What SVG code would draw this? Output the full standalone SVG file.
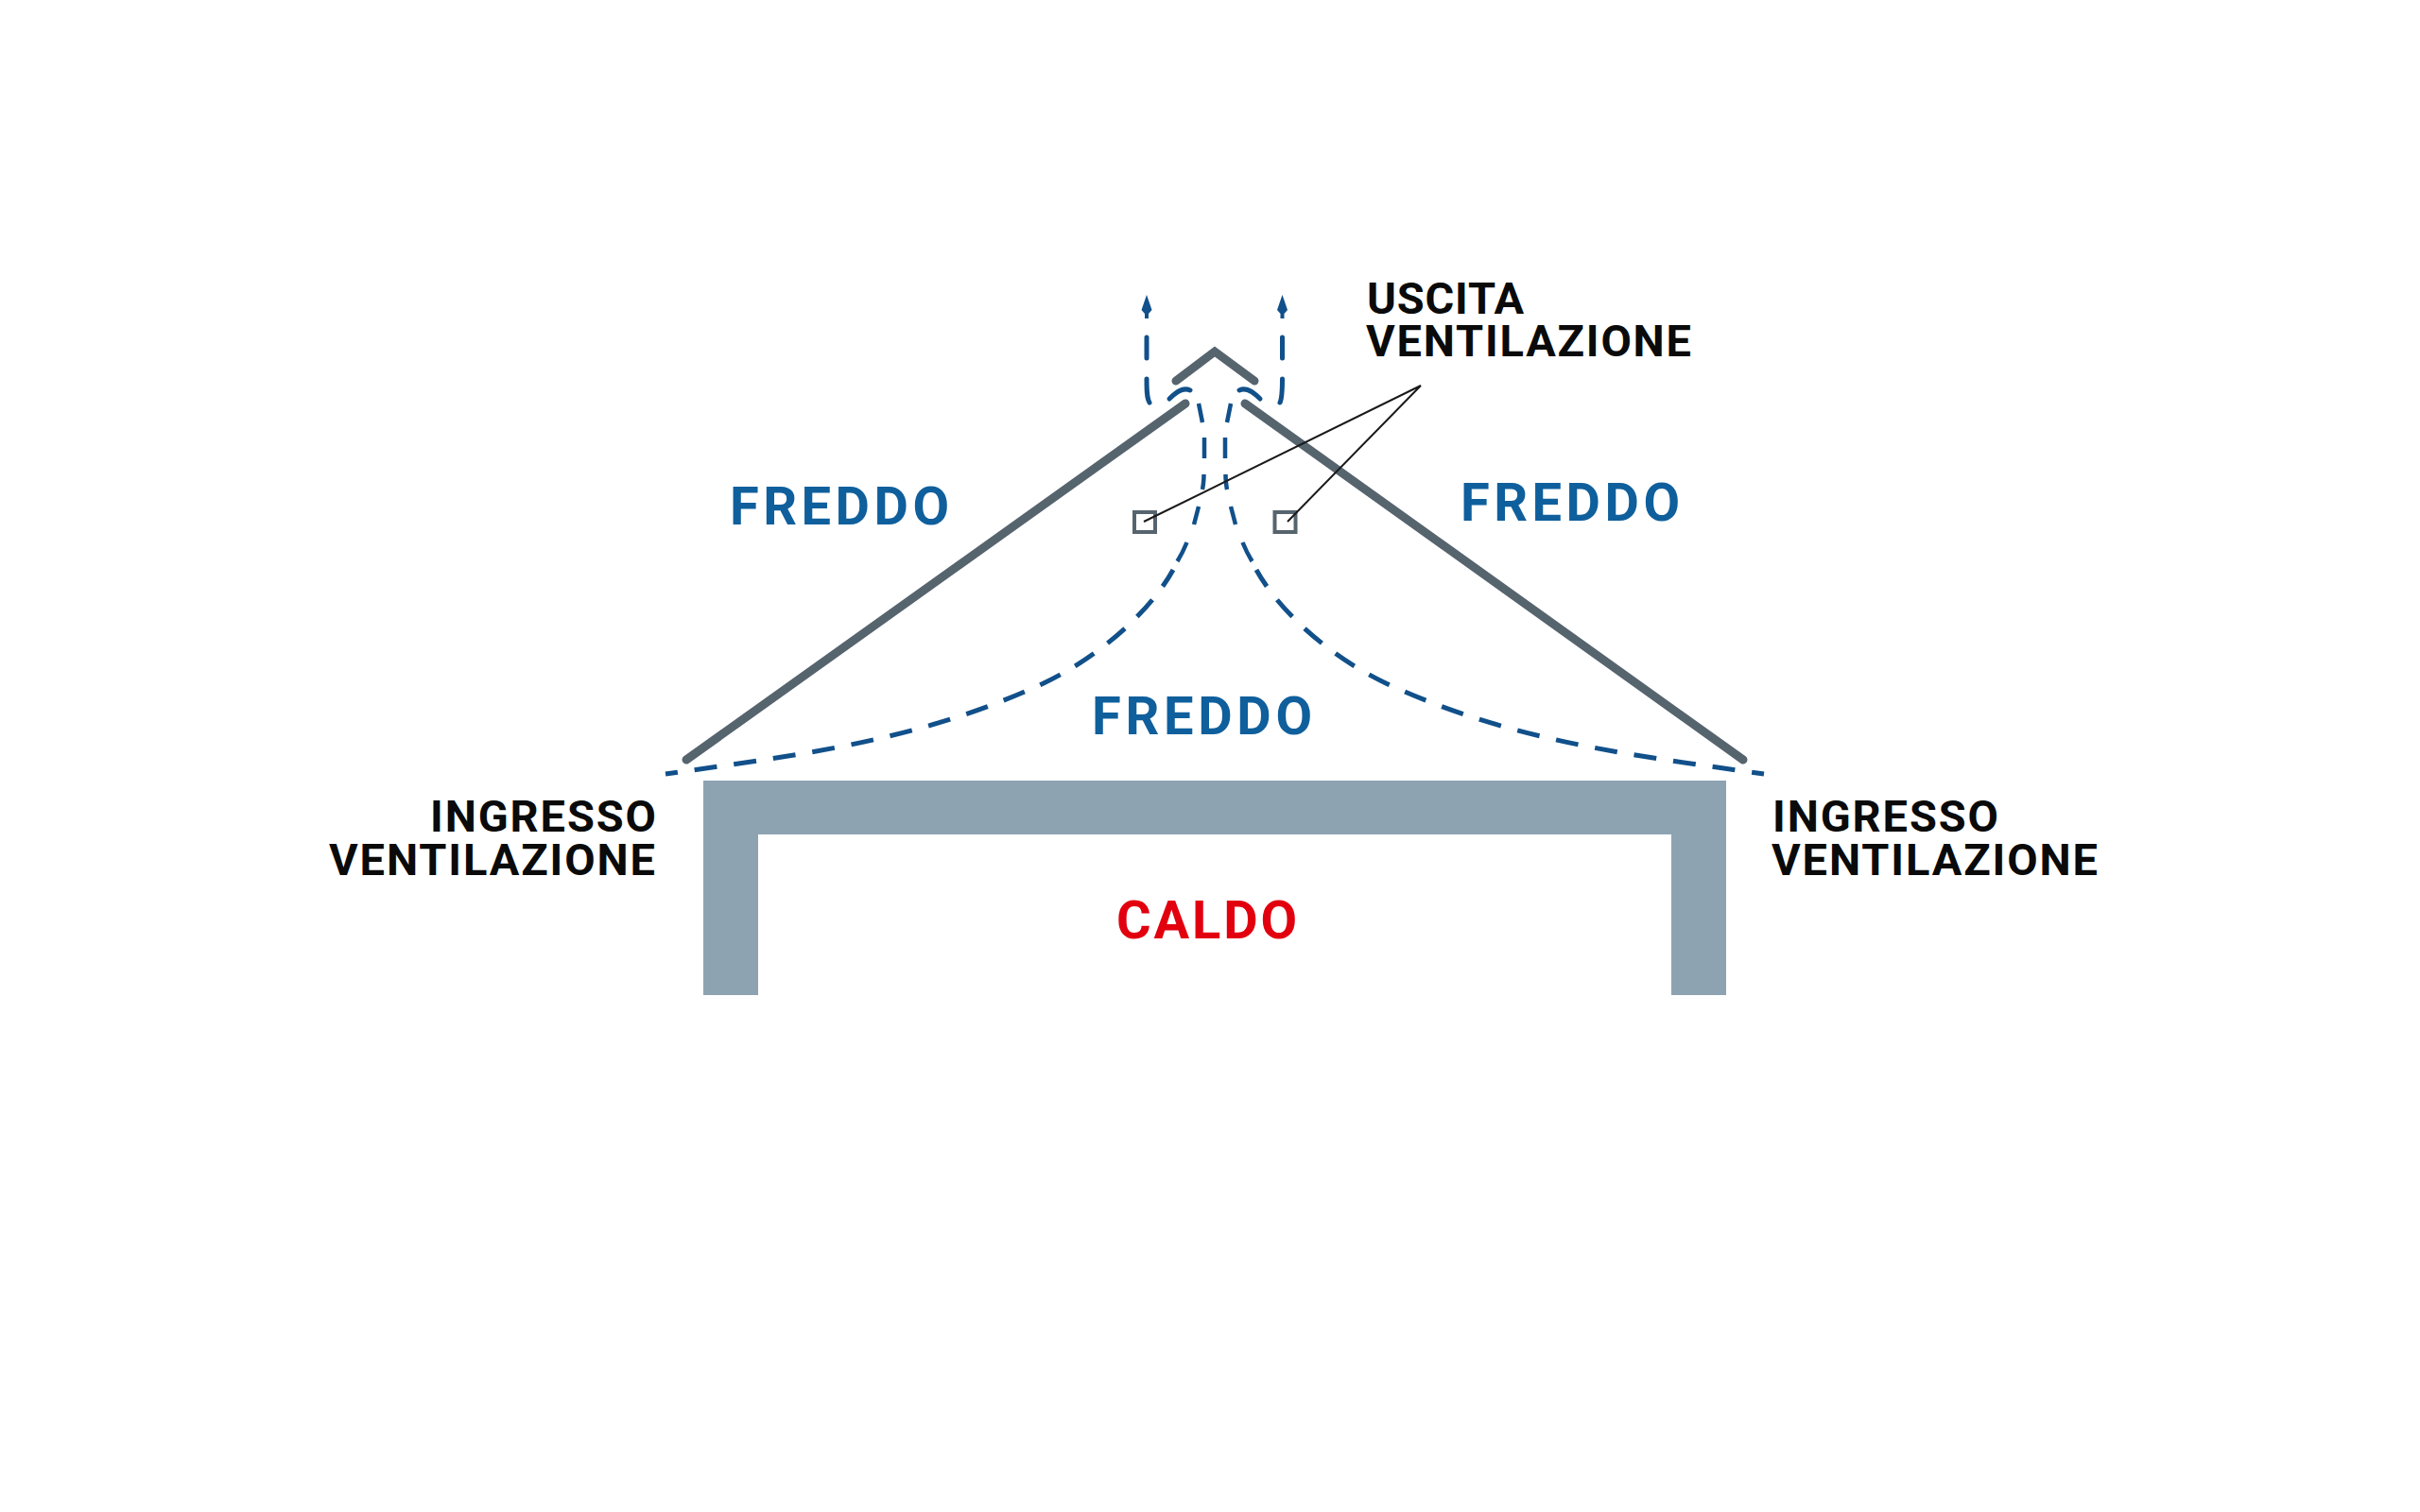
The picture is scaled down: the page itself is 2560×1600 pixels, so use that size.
<svg xmlns="http://www.w3.org/2000/svg" width="2560" height="1600" viewBox="0 0 2560 1600">
<style>
text{font-family:"Roboto","Liberation Sans",sans-serif;font-weight:700}
.k{font-size:47px;fill:#0a0a0a}
.b{font-size:56px;fill:#0f5f9c}
.r{font-size:56px;fill:#e2000f}
.roof{fill:none;stroke:#56646e;stroke-width:9;stroke-linecap:round;stroke-linejoin:miter}
.air{fill:none;stroke:#11508a;stroke-width:5;stroke-dasharray:24 18;stroke-dashoffset:11}
.air2{fill:none;stroke:#11508a;stroke-width:5;stroke-linecap:round}
.air3{fill:none;stroke:#11508a;stroke-width:4.500}
.shaft{fill:none;stroke:#11508a;stroke-width:4}
.lead{fill:none;stroke:#1a1a1a;stroke-width:2}
.vent{fill:#fff;stroke:#56646e;stroke-width:4}
</style>
<defs>
<marker id="arrow" viewBox="0 0 20 12" markerWidth="20" markerHeight="12" refX="0" refY="6" orient="auto" markerUnits="userSpaceOnUse"><path d="M20 6L4 0.500L0 4V8L4 11.500Z" fill="#11508a"/></marker>
</defs>
<rect width="2560" height="1600" fill="#fff"/>
<g id="building"><path d="M744 826H1826V1053H1768V883H802V1053H744Z" fill="#8ea3b2"/></g>
<g id="roof-left"><path class="roof" d="M726 804L1254 427"/></g>
<g id="roof-right"><path class="roof" d="M1317 427L1844 804"/></g>
<g id="ridge-cap"><path class="roof" d="M1244 403L1285 372L1327 403"/></g>
<g id="vent-left"><rect class="vent" x="1200" y="542" width="22" height="21"/></g>
<g id="vent-right"><rect class="vent" x="1348.500" y="542" width="22" height="21"/></g>
<g id="connectors">
<path class="air" d="M704 819C837 800 971 785 1104 723C1159 697 1215 650 1241 603"/>
<path class="air" d="M1866 819C1733 800 1599 785 1466 723C1411 697 1355 650 1329 603"/>
<path class="air3" d="M1245.500 594Q1251 585 1255.500 574M1263 555L1268 536M1272 518Q1273.500 510 1273.500 502M1274 485V463M1272 447L1268 427"/>
<path class="air3" d="M1324.500 594Q1319 585 1314.500 574M1307 555L1302 536M1298 518Q1296.500 510 1296.500 502M1296 485V463M1298 447L1302 427"/>
<path class="air2" d="M1237 422C1243 416 1251 409 1259 413"/>
<path class="air2" d="M1333 422C1327 416 1319 409 1311 413"/>
<path class="air2" d="M1213 357V379M1213 401C1213 412 1213 421 1216 426"/>
<path class="air2" d="M1356.500 357V379M1356.500 401C1356.500 412 1356.500 421 1354 426"/>
<path class="shaft" d="M1213 337V332" marker-end="url(#arrow)"/>
<path class="shaft" d="M1356.500 337V332" marker-end="url(#arrow)"/>
<path class="lead" d="M1210 552L1503 408L1362 552"/>
</g>
<g id="label-uscita">
<text class="k"><tspan x="1446" y="332" textLength="166">USCITA</tspan><tspan x="1445" y="377" textLength="344">VENTILAZIONE</tspan></text>
</g>
<g id="label-ingresso-left">
<text class="k"><tspan x="455" y="880" textLength="239">INGRESSO</tspan><tspan x="348" y="926" textLength="345">VENTILAZIONE</tspan></text>
</g>
<g id="label-ingresso-right">
<text class="k"><tspan x="1875" y="880" textLength="239">INGRESSO</tspan><tspan x="1874" y="926" textLength="345">VENTILAZIONE</tspan></text>
</g>
<g id="label-freddo-left"><text class="b" x="772" y="555" textLength="232">FREDDO</text></g>
<g id="label-freddo-right"><text class="b" x="1545" y="551" textLength="232">FREDDO</text></g>
<g id="label-freddo-center"><text class="b" x="1155" y="777" textLength="233">FREDDO</text></g>
<g id="label-caldo"><text class="r" x="1181" y="993" textLength="191">CALDO</text></g>
</svg>
